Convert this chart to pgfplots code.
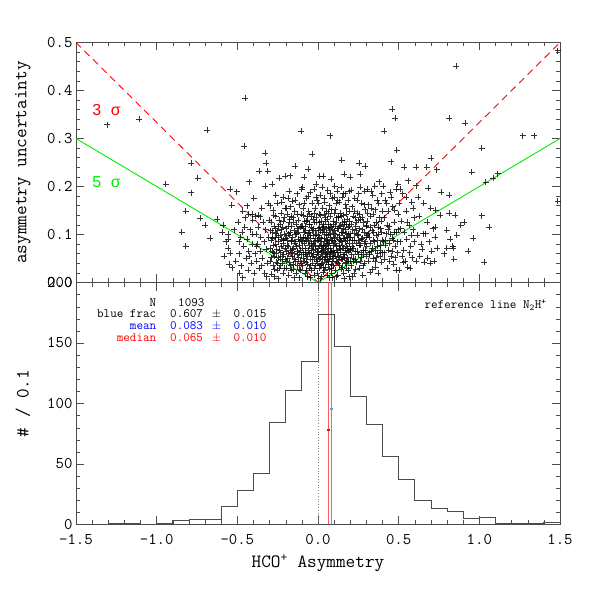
\documentclass[border=0pt]{standalone}
\usepackage{fontspec}
\newfontfamily\sansf{Liberation Sans}
\usepackage{pgfplots}
\pgfplotsset{compat=1.18}
\definecolor{lred}{RGB}{255,90,90}
\definecolor{lblue}{RGB}{90,150,255}
\definecolor{lgreen}{RGB}{0,235,0}
\newcommand{\annf}{\ttfamily\fontsize{12.8}{12.8}\selectfont}
\newcommand{\annrow}[4]{\makebox[66bp][r]{#1}\hspace{14bp}\makebox[41.7bp][l]{#2}\makebox[21.6bp][l]{#3}#4}
\begin{document}
\begin{tikzpicture}
\path[use as bounding box] (0,0) rectangle (600bp,600bp);
\pgfplotsset{
 common/.style={scale only axis, width=484bp, xmin=-1.5, xmax=1.5, anchor=south west,
   axis line style={black!70}, every tick/.style={black!70},
   major tick length=8bp, minor tick length=4bp,
   xtick={-1.5,-1,-0.5,0,0.5,1,1.5}, minor x tick num=4,
   tick label style={font=\ttfamily\fontsize{16.4}{17}\selectfont},
   /pgf/number format/assume math mode=true,
   label style={font=\ttfamily\fontsize{18.8}{20}\selectfont}},
}
\begin{axis}[common, at={(76bp,317.5bp)}, height=240bp, ymin=0, ymax=0.5,
  ytick={0,0.1,0.2,0.3,0.4,0.5}, minor y tick num=4, xticklabels={},
  yticklabel style={/pgf/number format/.cd, fixed, fixed zerofill, precision=1},
  ylabel={asymmetry uncertainty},
  ylabel style={at={(rel axis cs:-0.1095,0.5)}, anchor=center}]
\addplot[only marks, mark=+, mark size=3bp, black, mark options={line width=0.6bp, opacity=0.8}] coordinates {
(-1.306,0.329) (-1.108,0.340) (-0.944,0.205) (-0.845,0.105) (-0.82,0.148) (-0.82,0.075) (-0.787,0.248) (-0.787,0.187) (-0.746,0.218) (-0.731,0.134) (-0.70,0.12) (-0.686,0.318) (-0.669,0.092) (-0.624,0.132)
(-0.59,0.12) (-0.556,0.101) (-0.545,0.194) (-0.535,0.161) (-0.556,0.071) (-0.545,0.061) (-0.552,0.038) (-0.531,0.031) (-0.556,0.09) (-0.58,0.055) (-0.57,0.085) (-0.51,0.045) (-0.52,0.11) (-0.505,0.189) (-0.595,0.105)
(-0.452,0.384) (-0.457,0.284) (-0.426,0.21) (-0.467,0.148) (-0.467,0.010) (-0.43,0.143) (-0.41,0.143) (-0.49,0.06) (-0.48,0.095) (-0.475,0.035) (-0.46,0.075) (-0.455,0.115) (-0.445,0.05) (-0.44,0.09) (-0.435,0.025) (-0.43,0.065) (-0.42,0.11) (-0.415,0.04) (-0.41,0.08) (-0.405,0.13) (-0.495,0.125) (-0.485,0.02) (-0.47,0.105) (-0.45,0.135) (-0.44,0.16) (-0.425,0.055) (-0.405,0.10) (-0.49,0.085)
(-0.364,0.232) (-0.328,0.27) (-0.322,0.248) (-0.312,0.232) (-0.328,0.201) (-0.39,0.138) (-0.37,0.14) (-0.36,0.137) (-0.395,0.02) (-0.39,0.06) (-0.385,0.1) (-0.38,0.045) (-0.375,0.08) (-0.37,0.115) (-0.365,0.03) (-0.36,0.065) (-0.355,0.095) (-0.35,0.155) (-0.345,0.05) (-0.34,0.125) (-0.335,0.085) (-0.33,0.02) (-0.325,0.11) (-0.32,0.07) (-0.315,0.04) (-0.31,0.165) (-0.305,0.095) (-0.302,0.13) (-0.398,0.175) (-0.38,0.075) (-0.35,0.035) (-0.318,0.012)
(-0.295,0.045) (-0.292,0.088) (-0.29,0.125) (-0.288,0.018) (-0.285,0.065) (-0.282,0.105) (-0.28,0.15) (-0.277,0.035) (-0.275,0.078) (-0.272,0.055) (-0.27,0.118) (-0.268,0.012) (-0.265,0.095) (-0.262,0.138) (-0.26,0.042) (-0.257,0.07) (-0.255,0.165) (-0.252,0.025) (-0.25,0.108) (-0.248,0.085) (-0.245,0.052) (-0.242,0.13) (-0.24,0.217) (-0.238,0.03) (-0.235,0.098) (-0.232,0.062) (-0.23,0.145) (-0.228,0.075) (-0.225,0.168) (-0.222,0.04) (-0.22,0.115) (-0.218,0.088) (-0.215,0.02) (-0.212,0.058) (-0.21,0.135) (-0.208,0.1) (-0.205,0.222) (-0.205,0.048) (-0.203,0.072) (-0.202,0.155) (-0.298,0.16) (-0.286,0.205) (-0.274,0.14) (-0.263,0.182) (-0.247,0.008) (-0.236,0.122) (-0.226,0.09) (-0.216,0.178) (-0.259,0.102) (-0.233,0.035)
(-0.198,0.065) (-0.196,0.112) (-0.194,0.03) (-0.192,0.088) (-0.19,0.142) (-0.188,0.05) (-0.186,0.175) (-0.184,0.075) (-0.182,0.015) (-0.18,0.098) (-0.178,0.125) (-0.176,0.042) (-0.174,0.2225) (-0.172,0.068) (-0.17,0.158) (-0.168,0.085) (-0.166,0.025) (-0.164,0.118) (-0.162,0.055) (-0.16,0.17) (-0.158,0.095) (-0.156,0.038) (-0.154,0.135) (-0.152,0.072) (-0.15,0.108) (-0.148,0.01) (-0.146,0.06) (-0.144,0.148) (-0.143,0.243) (-0.14,0.082) (-0.138,0.045) (-0.136,0.122) (-0.134,0.02) (-0.132,0.102) (-0.13,0.065) (-0.128,0.185) (-0.126,0.035) (-0.124,0.09) (-0.122,0.13) (-0.12,0.052) (-0.118,0.078) (-0.116,0.162) (-0.114,0.028) (-0.112,0.115) (-0.11,0.068) (-0.108,0.095) (-0.106,0.142) (-0.104,0.04) (-0.102,0.058) (-0.101,0.195) (-0.177,0.19) (-0.165,0.138) (-0.153,0.028) (-0.141,0.172) (-0.129,0.112) (-0.117,0.01) (-0.105,0.088) (-0.195,0.155) (-0.171,0.105)
(-0.099,0.072) (-0.097,0.118) (-0.095,0.035) (-0.093,0.095) (-0.091,0.155) (-0.089,0.05) (-0.087,0.082) (-0.085,0.219) (-0.083,0.128) (-0.081,0.02) (-0.079,0.062) (-0.077,0.108) (-0.075,0.175) (-0.073,0.042) (-0.071,0.088) (-0.069,0.138) (-0.067,0.055) (-0.065,0.012) (-0.063,0.102) (-0.061,0.068) (-0.06,0.236) (-0.058,0.148) (-0.056,0.03) (-0.054,0.078) (-0.052,0.122) (-0.05,0.048) (-0.048,0.188) (-0.046,0.092) (-0.044,0.06) (-0.042,0.115) (-0.04,0.025) (-0.038,0.165) (-0.036,0.075) (-0.035,0.268) (-0.033,0.04) (-0.031,0.132) (-0.029,0.098) (-0.027,0.058) (-0.025,0.015) (-0.023,0.085) (-0.021,0.145) (-0.019,0.07) (-0.017,0.108) (-0.015,0.035) (-0.013,0.178) (-0.012,0.205) (-0.011,0.052) (-0.009,0.125) (-0.007,0.088) (-0.005,0.02) (-0.003,0.065) (-0.001,0.112) (-0.098,0.198) (-0.105,0.316) (-0.086,0.165) (-0.078,0.092) (-0.07,0.025) (-0.062,0.18) (-0.055,0.105) (-0.047,0.01) (-0.039,0.138) (-0.032,0.082) (-0.024,0.195) (-0.016,0.155) (-0.008,0.045) (-0.004,0.172) (-0.09,0.112) (-0.066,0.13) (-0.043,0.072) (-0.02,0.03)
(0.001,0.058) (0.003,0.098) (0.005,0.142) (0.007,0.03) (0.009,0.075) (0.01,0.222) (0.011,0.115) (0.013,0.05) (0.015,0.182) (0.017,0.085) (0.019,0.012) (0.021,0.128) (0.023,0.065) (0.025,0.105) (0.027,0.04) (0.029,0.155) (0.03,0.222) (0.031,0.078) (0.033,0.022) (0.035,0.118) (0.037,0.092) (0.039,0.048) (0.041,0.168) (0.043,0.07) (0.045,0.135) (0.047,0.032) (0.049,0.1) (0.051,0.06) (0.053,0.148) (0.055,0.015) (0.057,0.088) (0.059,0.192) (0.061,0.045) (0.063,0.122) (0.065,0.072) (0.067,0.108) (0.069,0.028) (0.071,0.16) (0.073,0.082) (0.074,0.306) (0.075,0.055) (0.077,0.138) (0.079,0.095) (0.08,0.215) (0.081,0.038) (0.083,0.115) (0.085,0.065) (0.087,0.175) (0.089,0.01) (0.091,0.088) (0.093,0.128) (0.095,0.05) (0.097,0.102) (0.099,0.145) (0.004,0.165) (0.012,0.008) (0.018,0.062) (0.026,0.198) (0.034,0.11) (0.042,0.025) (0.05,0.078) (0.058,0.132) (0.066,0.038) (0.076,0.185) (0.084,0.02) (0.092,0.068) (0.098,0.178) (0.008,0.125) (0.022,0.092) (0.038,0.142) (0.054,0.112) (0.068,0.058) (0.082,0.152) (0.094,0.035) (0.014,0.035) (0.028,0.072) (0.046,0.052) (0.062,0.098) (0.078,0.118) (0.088,0.045) (0.002,0.088) (0.036,0.175) (0.056,0.048) (0.072,0.01) (0.096,0.122)
(0.101,0.062) (0.103,0.108) (0.105,0.025) (0.107,0.152) (0.109,0.082) (0.111,0.045) (0.113,0.125) (0.115,0.068) (0.117,0.19) (0.119,0.095) (0.121,0.015) (0.123,0.135) (0.125,0.055) (0.127,0.112) (0.129,0.078) (0.131,0.168) (0.133,0.035) (0.135,0.098) (0.137,0.145) (0.139,0.062) (0.141,0.12) (0.143,0.028) (0.145,0.085) (0.147,0.255) (0.149,0.178) (0.151,0.048) (0.153,0.105) (0.155,0.072) (0.157,0.14) (0.159,0.02) (0.16,0.225) (0.161,0.092) (0.163,0.058) (0.165,0.128) (0.167,0.185) (0.169,0.04) (0.171,0.11) (0.173,0.075) (0.175,0.155) (0.177,0.03) (0.179,0.088) (0.181,0.132) (0.183,0.052) (0.185,0.1) (0.187,0.172) (0.189,0.065) (0.191,0.012) (0.193,0.118) (0.195,0.082) (0.197,0.148) (0.199,0.045) (0.104,0.2) (0.112,0.012) (0.122,0.172) (0.132,0.052) (0.142,0.198) (0.152,0.125) (0.162,0.008) (0.172,0.162) (0.182,0.095) (0.192,0.19) (0.108,0.118) (0.118,0.042) (0.128,0.138) (0.138,0.088) (0.148,0.032) (0.158,0.112) (0.168,0.068) (0.178,0.122) (0.188,0.025) (0.198,0.102) (0.114,0.165) (0.134,0.072) (0.154,0.185) (0.174,0.042)
(0.201,0.07) (0.204,0.122) (0.2,0.22) (0.207,0.035) (0.21,0.158) (0.213,0.088) (0.216,0.05) (0.219,0.138) (0.222,0.102) (0.225,0.02) (0.228,0.175) (0.231,0.065) (0.234,0.118) (0.237,0.082) (0.24,0.042) (0.243,0.145) (0.246,0.098) (0.249,0.058) (0.252,0.185) (0.255,0.112) (0.256,0.248) (0.258,0.03) (0.26,0.225) (0.261,0.078) (0.264,0.132) (0.267,0.052) (0.27,0.165) (0.273,0.092) (0.276,0.015) (0.279,0.125) (0.282,0.068) (0.285,0.105) (0.288,0.04) (0.291,0.152) (0.293,0.243) (0.294,0.085) (0.297,0.118) (0.299,0.055) (0.206,0.192) (0.215,0.012) (0.224,0.148) (0.233,0.028) (0.242,0.172) (0.251,0.088) (0.263,0.198) (0.272,0.135) (0.281,0.035) (0.29,0.19) (0.298,0.095) (0.212,0.075) (0.238,0.108) (0.266,0.062) (0.284,0.162) (0.219,0.045) (0.247,0.13)
(0.302,0.075) (0.306,0.128) (0.31,0.045) (0.314,0.162) (0.318,0.095) (0.322,0.022) (0.326,0.138) (0.33,0.065) (0.334,0.108) (0.338,0.182) (0.342,0.05) (0.346,0.12) (0.35,0.085) (0.354,0.152) (0.358,0.032) (0.362,0.098) (0.366,0.172) (0.37,0.06) (0.374,0.019) (0.378,0.21) (0.38,0.135) (0.384,0.078) (0.388,0.112) (0.392,0.042) (0.396,0.148) (0.399,0.088) (0.304,0.195) (0.312,0.102) (0.32,0.058) (0.328,0.19) (0.336,0.028) (0.344,0.088) (0.352,0.2) (0.36,0.125) (0.368,0.075) (0.376,0.165) (0.386,0.055) (0.394,0.185) (0.308,0.145) (0.324,0.082) (0.34,0.142) (0.356,0.068) (0.372,0.115) (0.39,0.128) (0.398,0.062)
(0.403,0.085) (0.408,0.135) (0.411,0.316) (0.413,0.048) (0.418,0.172) (0.423,0.102) (0.428,0.03) (0.433,0.148) (0.438,0.068) (0.443,0.118) (0.448,0.188) (0.452,0.252) (0.453,0.055) (0.458,0.092) (0.461,0.361) (0.463,0.158) (0.468,0.038) (0.473,0.125) (0.477,0.343) (0.478,0.075) (0.483,0.195) (0.488,0.275) (0.488,0.105) (0.493,0.062) (0.494,0.205) (0.498,0.142) (0.405,0.2) (0.415,0.078) (0.425,0.165) (0.435,0.11) (0.445,0.045) (0.455,0.178) (0.465,0.088) (0.475,0.15) (0.485,0.025) (0.495,0.11)
(0.504,0.025) (0.505,0.165) (0.51,0.085) (0.515,0.128) (0.52,0.055) (0.525,0.185) (0.53,0.068) (0.535,0.241) (0.535,0.105) (0.54,0.045) (0.545,0.148) (0.55,0.09) (0.555,0.032) (0.56,0.212) (0.565,0.12) (0.57,0.03) (0.575,0.075) (0.58,0.168) (0.585,0.052) (0.59,0.11) (0.595,0.135) (0.598,0.085) (0.508,0.195) (0.528,0.042) (0.548,0.178) (0.568,0.062) (0.588,0.155) (0.512,0.112) (0.552,0.125) (0.578,0.098)
(0.607,0.202) (0.61,0.241) (0.61,0.045) (0.615,0.098) (0.625,0.138) (0.63,0.055) (0.64,0.08) (0.645,0.07) (0.65,0.102) (0.655,0.165) (0.66,0.042) (0.668,0.102) (0.674,0.241) (0.675,0.125) (0.68,0.05) (0.684,0.196) (0.69,0.085) (0.695,0.04) (0.698,0.155) (0.62,0.178)
(0.70,0.259) (0.705,0.065) (0.712,0.112) (0.718,0.045) (0.725,0.095) (0.725,0.116) (0.73,0.15) (0.736,0.235) (0.74,0.072) (0.756,0.141) (0.765,0.188) (0.78,0.06) (0.797,0.109) (0.797,0.071)
(0.812,0.343) (0.812,0.145) (0.814,0.182) (0.82,0.09) (0.835,0.075) (0.839,0.071) (0.849,0.141) (0.855,0.45) (0.86,0.098) (0.885,0.119) (0.84,0.048)
(0.905,0.125) (0.911,0.332) (0.953,0.23) (0.963,0.092) (0.93,0.065)
(1.015,0.28) (1.015,0.139) (1.031,0.042) (1.04,0.209) (1.06,0.115) (1.087,0.217)
(1.114,0.227) (1.269,0.306) (1.341,0.306) (1.486,0.483) (1.486,0.17)
(-0.297,0.072) (-0.289,0.052) (-0.281,0.092) (-0.273,0.028) (-0.266,0.112) (-0.258,0.06) (-0.251,0.04) (-0.244,0.095) (-0.237,0.068) (-0.229,0.11) (-0.221,0.055) (-0.214,0.082) (-0.207,0.03) (-0.294,0.108) (-0.278,0.062) (-0.262,0.08) (-0.246,0.118) (-0.231,0.048) (-0.217,0.128) (-0.204,0.092)
(-0.199,0.045) (-0.193,0.078) (-0.187,0.102) (-0.181,0.06) (-0.175,0.132) (-0.169,0.035) (-0.163,0.088) (-0.157,0.07) (-0.151,0.125) (-0.145,0.048) (-0.139,0.1) (-0.133,0.075) (-0.127,0.058) (-0.121,0.105) (-0.115,0.085) (-0.109,0.045) (-0.103,0.118) (-0.197,0.092) (-0.183,0.118) (-0.167,0.062) (-0.149,0.085) (-0.131,0.142) (-0.113,0.062) (-0.107,0.025)
(-0.096,0.085) (-0.092,0.062) (-0.088,0.105) (-0.084,0.045) (-0.08,0.118) (-0.076,0.072) (-0.072,0.058) (-0.068,0.095) (-0.064,0.038) (-0.06,0.085) (-0.057,0.122) (-0.053,0.062) (-0.049,0.098) (-0.045,0.035) (-0.041,0.082) (-0.037,0.108) (-0.034,0.055) (-0.03,0.068) (-0.026,0.125) (-0.022,0.048) (-0.018,0.092) (-0.014,0.078) (-0.01,0.1) (-0.006,0.062) (-0.002,0.04) (-0.094,0.14) (-0.074,0.128) (-0.051,0.142) (-0.028,0.112) (-0.012,0.135)
(0.002,0.072) (0.006,0.048) (0.01,0.095) (0.014,0.108) (0.018,0.038) (0.022,0.078) (0.026,0.055) (0.03,0.122) (0.034,0.068) (0.038,0.085) (0.042,0.105) (0.046,0.075) (0.05,0.042) (0.054,0.09) (0.058,0.062) (0.062,0.115) (0.066,0.082) (0.07,0.048) (0.074,0.1) (0.078,0.065) (0.082,0.088) (0.086,0.11) (0.09,0.055) (0.094,0.078) (0.098,0.092) (0.016,0.14) (0.032,0.032) (0.048,0.128) (0.064,0.145) (0.08,0.03) (0.096,0.062) (0.024,0.115) (0.044,0.058) (0.06,0.082) (0.076,0.072)
(0.102,0.085) (0.106,0.055) (0.11,0.1) (0.114,0.075) (0.118,0.062) (0.122,0.112) (0.126,0.04) (0.13,0.09) (0.134,0.118) (0.138,0.07) (0.142,0.048) (0.146,0.105) (0.15,0.078) (0.154,0.058) (0.158,0.092) (0.162,0.122) (0.166,0.05) (0.17,0.085) (0.174,0.102) (0.178,0.062) (0.182,0.072) (0.186,0.115) (0.19,0.045) (0.194,0.095) (0.198,0.068) (0.116,0.135) (0.144,0.138) (0.176,0.142) (0.196,0.128)
(0.203,0.095) (0.209,0.058) (0.214,0.11) (0.22,0.072) (0.226,0.088) (0.232,0.048) (0.238,0.125) (0.244,0.065) (0.25,0.1) (0.256,0.078) (0.262,0.045) (0.268,0.09) (0.274,0.11) (0.28,0.058) (0.286,0.082) (0.292,0.068) (0.298,0.12) (0.229,0.135) (0.259,0.142)
(0.305,0.098) (0.315,0.062) (0.325,0.115) (0.335,0.072) (0.345,0.105) (0.355,0.045) (0.365,0.088) (0.375,0.1) (0.385,0.068) (0.395,0.105) (0.331,0.155) (0.361,0.052)
(0.41,0.062) (0.42,0.088) (0.43,0.12) (0.44,0.082) (0.45,0.1) (0.46,0.065) (0.47,0.105) (0.48,0.052) (0.49,0.085)
};
\addplot[red, line width=0.9bp, dash pattern=on 7bp off 5bp] coordinates {(-1.5,0.5) (0,0) (1.5,0.5)};
\addplot[lgreen, line width=0.9bp] coordinates {(-1.5,0.3) (0,0) (1.5,0.3)};
\node[red, anchor=west, inner sep=0, font=\sansf\fontsize{16}{16}\selectfont] at (axis cs:-1.4,0.359) {3\hspace{0.6em}σ};
\node[lgreen, anchor=west, inner sep=0, font=\sansf\fontsize{16}{16}\selectfont] at (axis cs:-1.4,0.21) {5\hspace{0.6em}σ};
\end{axis}
\begin{axis}[common, at={(76bp,75.5bp)}, height=242bp, ymin=0, ymax=200,
  ytick={0,50,100,150,200}, minor y tick num=4,
  xticklabel style={yshift=-6bp, /pgf/number format/.cd, fixed, fixed zerofill, precision=1},
  xlabel={HCO\textsuperscript{+} Asymmetry}, ylabel={\# / 0.1},
  xlabel style={at={(rel axis cs:0.5,-0.159)}, anchor=center},
  ylabel style={at={(rel axis cs:-0.1095,0.5)}, anchor=center}]
\addplot[gray, line width=0.8bp, dotted] coordinates {(0,0) (0,200)};
\addplot[lred, line width=0.9bp] coordinates {(0.065,0) (0.065,200)};
\addplot[lblue, line width=0.9bp] coordinates {(0.083,0) (0.083,200)};
\addplot[lblue, line width=1.3bp] coordinates {(0.075,95.5) (0.091,95.5)};
\addplot[red, line width=1.3bp] coordinates {(0.057,78) (0.073,78)};
\addplot[const plot, black!70, line width=0.8bp] coordinates {
(-1.5,0) (-1.4,0) (-1.3,1) (-1.2,1) (-1.1,0) (-1.0,1) (-0.9,3) (-0.8,4) (-0.7,4) (-0.6,15)
(-0.5,28) (-0.4,42) (-0.3,84) (-0.2,111) (-0.1,135) (0.0,174) (0.1,147) (0.2,106) (0.3,83) (0.4,56)
(0.5,37) (0.6,20) (0.7,13) (0.8,11) (0.9,5) (1.0,6) (1.1,1) (1.2,1) (1.3,1) (1.4,2) (1.5,2)};
\node[anchor=west, inner sep=0, font=\annf] at (axis cs:-1.413,183.3) {\makebox[66bp][r]{N}\hspace{22bp}1093};
\node[anchor=west, inner sep=0, font=\annf] at (axis cs:-1.413,173.7) {\annrow{blue frac}{0.607}{$\pm$}{0.015}};
\node[anchor=west, inner sep=0, font=\annf, blue] at (axis cs:-1.413,164) {\annrow{mean}{0.083}{$\pm$}{0.010}};
\node[anchor=west, inner sep=0, font=\annf, red] at (axis cs:-1.413,153.9) {\annrow{median}{0.065}{$\pm$}{0.010}};
\node[anchor=east, inner sep=0, font=\annf] at (axis cs:1.418,181.4) {reference line N\textsubscript{2}H\textsuperscript{+}};
\end{axis}
\end{tikzpicture}
\end{document}
